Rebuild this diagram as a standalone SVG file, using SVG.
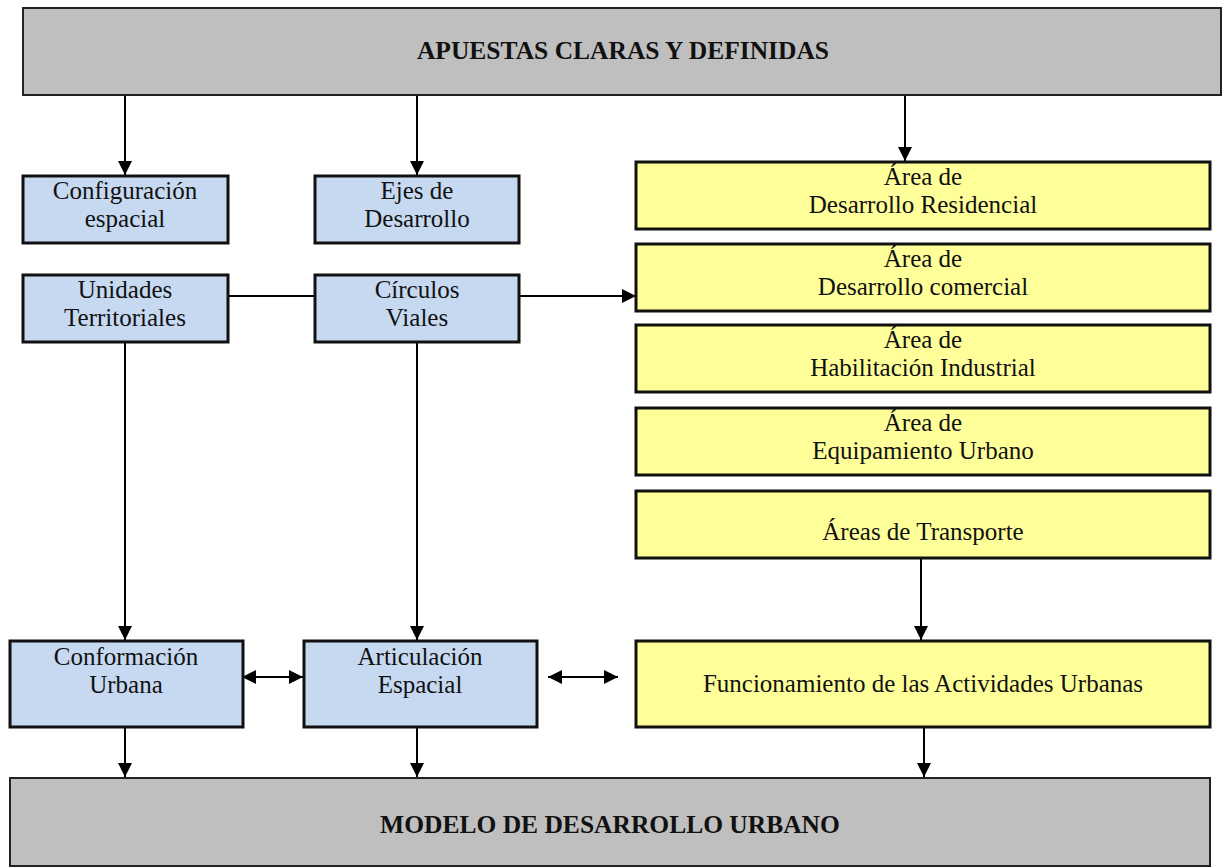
<svg xmlns="http://www.w3.org/2000/svg" width="1222" height="867" viewBox="0 0 1222 867">
<defs>
<style>
.t{font-family:"Liberation Serif","Times New Roman",serif;font-size:25px;fill:#111;text-anchor:middle}
.b{font-family:"Liberation Serif","Times New Roman",serif;font-size:25.5px;font-weight:bold;fill:#111;text-anchor:middle}
.gray{fill:#bfbfbf;stroke:#222;stroke-width:2}
.blue{fill:#c6d9f1;stroke:#111;stroke-width:3}
.yel{fill:#ffff99;stroke:#111;stroke-width:3}
.c{stroke:#000;stroke-width:2;fill:none}
</style>
<marker id="a" viewBox="0 0 14 14" refX="14" refY="7" markerWidth="14" markerHeight="15" markerUnits="userSpaceOnUse" orient="auto-start-reverse">
<path d="M0,0 L14,7 L0,14 z" fill="#000"/>
</marker>
</defs>
<rect width="1222" height="867" fill="#fff"/>
<g id="connectors">
<line class="c" x1="125" y1="95" x2="125" y2="175" marker-end="url(#a)"/>
<line class="c" x1="417" y1="95" x2="417" y2="175" marker-end="url(#a)"/>
<line class="c" x1="905" y1="95" x2="905" y2="161" marker-end="url(#a)"/>
<line class="c" x1="228" y1="296" x2="315" y2="296"/>
<line class="c" x1="519" y1="296" x2="636" y2="296" marker-end="url(#a)"/>
<line class="c" x1="125" y1="342" x2="125" y2="640" marker-end="url(#a)"/>
<line class="c" x1="417" y1="342" x2="417" y2="640" marker-end="url(#a)"/>
<line class="c" x1="921" y1="558" x2="921" y2="640" marker-end="url(#a)"/>
<line class="c" x1="242" y1="677" x2="303" y2="677" marker-start="url(#a)" marker-end="url(#a)"/>
<line class="c" x1="548" y1="677" x2="618" y2="677" marker-start="url(#a)" marker-end="url(#a)"/>
<line class="c" x1="125" y1="727" x2="125" y2="777" marker-end="url(#a)"/>
<line class="c" x1="417" y1="727" x2="417" y2="777" marker-end="url(#a)"/>
<line class="c" x1="924" y1="727" x2="924" y2="777" marker-end="url(#a)"/>
</g>
<g id="apuestas">
<rect class="gray" x="23" y="8" width="1198" height="87"/>
<text class="b" x="623" y="59">APUESTAS CLARAS Y DEFINIDAS</text>
</g>
<g id="configuracion">
<rect class="blue" x="23" y="176" width="205" height="67"/>
<text class="t" x="125" y="199">Configuración</text>
<text class="t" x="125" y="227">espacial</text>
</g>
<g id="ejes">
<rect class="blue" x="315" y="176" width="204" height="67"/>
<text class="t" x="417" y="199">Ejes de</text>
<text class="t" x="417" y="227">Desarrollo</text>
</g>
<g id="unidades">
<rect class="blue" x="23" y="275" width="205" height="67"/>
<text class="t" x="125" y="298">Unidades</text>
<text class="t" x="125" y="326">Territoriales</text>
</g>
<g id="circulos">
<rect class="blue" x="315" y="275" width="204" height="67"/>
<text class="t" x="417" y="298">Círculos</text>
<text class="t" x="417" y="326">Viales</text>
</g>
<g id="residencial">
<rect class="yel" x="636" y="162" width="574" height="67"/>
<text class="t" x="923" y="185">Área de</text>
<text class="t" x="923" y="213">Desarrollo Residencial</text>
</g>
<g id="comercial">
<rect class="yel" x="636" y="244" width="574" height="67"/>
<text class="t" x="923" y="267">Área de</text>
<text class="t" x="923" y="295">Desarrollo comercial</text>
</g>
<g id="industrial">
<rect class="yel" x="636" y="325" width="574" height="67"/>
<text class="t" x="923" y="348">Área de</text>
<text class="t" x="923" y="376">Habilitación Industrial</text>
</g>
<g id="equipamiento">
<rect class="yel" x="636" y="408" width="574" height="67"/>
<text class="t" x="923" y="431">Área de</text>
<text class="t" x="923" y="459">Equipamiento Urbano</text>
</g>
<g id="transporte">
<rect class="yel" x="636" y="491" width="574" height="67"/>
<text class="t" x="923" y="540">Áreas de Transporte</text>
</g>
<g id="conformacion">
<rect class="blue" x="10" y="641" width="233" height="86"/>
<text class="t" x="126" y="665">Conformación</text>
<text class="t" x="126" y="693">Urbana</text>
</g>
<g id="articulacion">
<rect class="blue" x="304" y="641" width="233" height="86"/>
<text class="t" x="420" y="665">Articulación</text>
<text class="t" x="420" y="693">Espacial</text>
</g>
<g id="funcionamiento">
<rect class="yel" x="636" y="641" width="574" height="86"/>
<text class="t" x="923" y="692">Funcionamiento de las Actividades Urbanas</text>
</g>
<g id="modelo">
<rect class="gray" x="10" y="778" width="1200" height="88"/>
<text class="b" x="610" y="833">MODELO DE DESARROLLO URBANO</text>
</g>
</svg>
